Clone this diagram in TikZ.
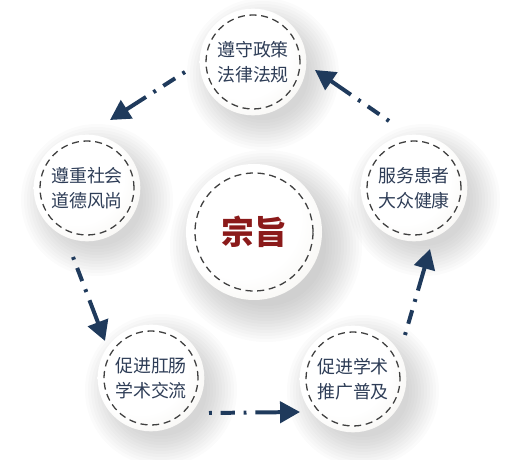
\documentclass[tikz,border=0pt]{standalone}
\usepackage{fontspec}
\newfontfamily\cjk{Noto Sans CJK SC}
\usetikzlibrary{arrows.meta,backgrounds}

\definecolor{navy}{HTML}{1F3A5C}
\definecolor{inkblue}{HTML}{2E3D57}
\definecolor{deepred}{HTML}{8B1A1A}
\definecolor{discedge}{HTML}{E4E0D6}
\pgfdeclareradialshading{discshade}{\pgfpoint{-8bp}{8bp}}{color(0bp)=(white); color(22bp)=(white); color(58bp)=(discedge)}

\tikzset{
  aimdisc/.style={circle, inner sep=0pt, minimum size=3.2cm, shading=discshade,
    font=\cjk\fontsize{15.3}{21}\selectfont, text=inkblue, align=center},
  ring/.style={draw=black!75, line width=1.1pt, dash pattern=on 6pt off 4pt},
  haze/.style={fill=black, opacity=0.016},
  flow/.style={navy, line width=3.4pt,
    dash pattern=on 2.5pt off 7.5pt on 12pt off 7.5pt on 2.5pt off 7.5pt on 60pt,
    -{Triangle[length=17pt,width=18pt]}},
}

\begin{document}
\begin{tikzpicture}[x=0.03cm,y=0.03cm]
  \useasboundingbox (0,0) rectangle (514,460);
  % circles
  \node[aimdisc, minimum size=4.08cm, font=\cjk\bfseries\fontsize{28}{30}\selectfont, text=deepred] (aim) at (254,228) {宗旨};
  \node[aimdisc] (law) at (253,398) {遵守政策\\法律法规};
  \node[aimdisc] (serve) at (414,272) {服务患者\\大众健康};
  \node[aimdisc] (spread) at (353,81) {促进学术\\推广普及};
  \node[aimdisc] (talk) at (151,82) {促进肛肠\\学术交流};
  \node[aimdisc] (moral) at (87,272) {遵重社会\\道德风尚};
  \draw[ring] (aim.center) circle (59);
  \foreach \n in {law,serve,spread,talk,moral}
    \draw[ring] (\n.center) circle (47);
  % soft shadows
  \begin{scope}[on background layer]
    \foreach \r in {60,63,...,96}
      \fill[haze] ([shift={(12,-14)}]aim.center) circle (\r);
    \foreach \n in {law,serve,spread,talk,moral}
      \foreach \r in {46,49,...,76}
        \fill[haze] ([shift={(10,-12)}]\n.center) circle (\r);
  \end{scope}
  % arrows
  \coordinate (a1) at (185,388); \coordinate (b1) at (110,340);
  \coordinate (a2) at (73,203);  \coordinate (b2) at (105,119);
  \coordinate (a3) at (209,47);  \coordinate (b3) at (300,48);
  \coordinate (a4) at (405,125); \coordinate (b4) at (430,211);
  \coordinate (a5) at (389,339); \coordinate (b5) at (315,390);
  \foreach \i in {1,...,5}
    \draw[flow] (a\i) -- (b\i);
\end{tikzpicture}
\end{document}
